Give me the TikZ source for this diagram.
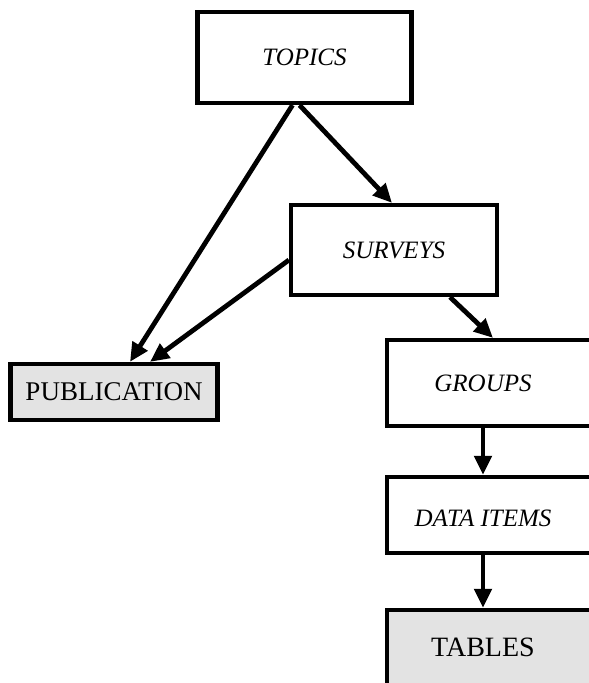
\documentclass[tikz,border=0pt]{standalone}
\usepackage{fontspec}
\setmainfont{Liberation Serif}
\usetikzlibrary{arrows.meta}

\begin{document}
\begin{tikzpicture}[x=1pt, y=-1pt,
    entity/.style={draw, line width=4.2pt, minimum width=#1, minimum height=86pt,
      font=\fontsize{25}{29}\selectfont\itshape},
    report/.style={entity=#1, fill=black!11, font=\fontsize{27}{31}\selectfont},
    tag/.style={font=\fontsize{25}{29}\selectfont\itshape},
    link/.style={-{Triangle[length=19pt, width=17pt]}, line width=4.8pt},
  ]
    \useasboundingbox (0,0) rectangle (589,683);
    \clip (0,0) rectangle (589,683);

    \node[entity=214pt, minimum height=91pt] (topics) at (304.5,57.5) {TOPICS};
    \node[entity=206pt, minimum height=90pt] (surveys) at (394,250) {SURVEYS};
    \node[report=207pt, minimum height=56pt] (publication) at (114,392) {PUBLICATION};

    % right hand column runs off the page
    \node[entity=250pt, minimum height=86pt] (groups) at (512,383) {};
    \node[tag] (groupstag) at (483,383) {GROUPS};
    \node[entity=250pt, minimum height=76pt] (items) at (512,515) {};
    \node[tag] (itemstag) at (483,518) {DATA ITEMS};
    \node[report=250pt, minimum height=90pt] (tables) at (512,655) {};
    \node[font=\fontsize{28}{32}\selectfont] (tablestag) at (483,647) {TABLES};

    \draw[link] ([xshift=-12pt]topics.south) -- ([xshift=16pt]publication.north);
    \draw[link] ([xshift=-5pt]topics.south) -- ([xshift=-2pt]surveys.north);
    \draw[link] ([yshift=-10pt]surveys.west) -- ([xshift=36pt]publication.north);
    \draw[link] ([xshift=56pt]surveys.south) -- ([xshift=-19pt]groups.north);
    \draw[link] ([xshift=-29pt]groups.south) -- ([xshift=-29pt]items.north);
    \draw[link] ([xshift=-29pt]items.south) -- ([xshift=-29pt]tables.north);
  \end{tikzpicture}
\end{document}
